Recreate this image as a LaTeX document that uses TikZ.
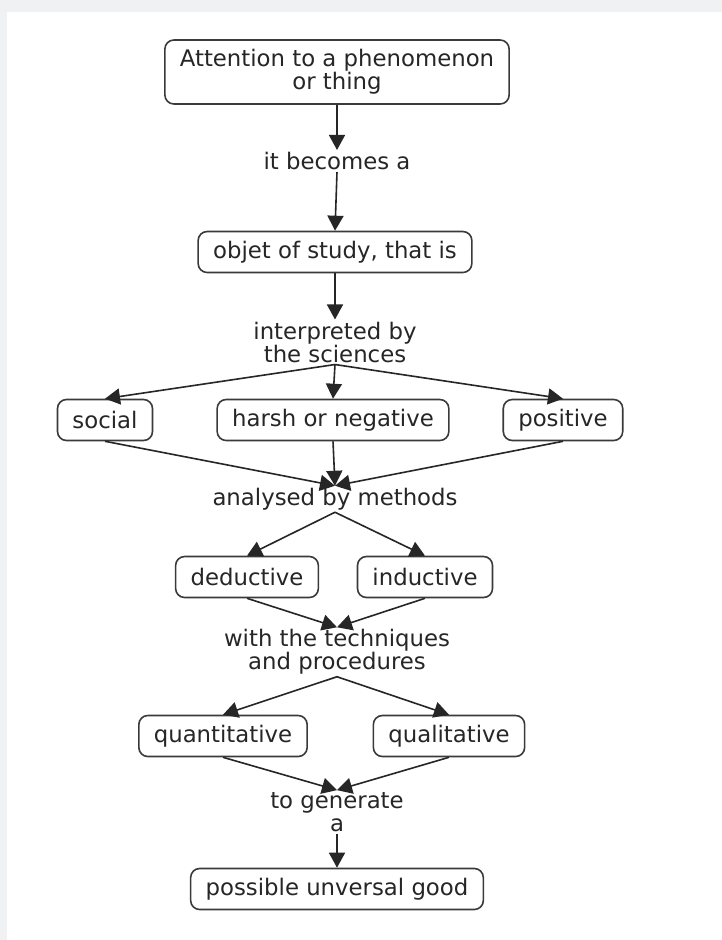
\documentclass[tikz,border=0pt]{standalone}
\usepackage{fontspec}
\setmainfont{DejaVu Sans}
\usepackage{xcolor}
\usetikzlibrary{shapes,arrows.meta,positioning}

\definecolor{bggray}{HTML}{F0F1F3}
\definecolor{boxgray}{HTML}{3A3A3A}
\definecolor{txtgray}{HTML}{262626}
\newcommand{\mapfont}{\fontsize{22.8}{23}\selectfont}

\begin{document}
\begin{tikzpicture}[x=1pt,y=-1pt,
    concept/.style={draw=boxgray, line width=1.6pt, rounded corners=9pt, fill=white,
        inner xsep=15pt, inner ysep=0pt, minimum height=41pt, align=center,
        font=\mapfont, text=txtgray},
    linkword/.style={inner sep=2pt, align=center, font=\mapfont, text=txtgray},
    link/.style={-{Triangle[width=16pt,length=15pt]}, line width=1.6pt, draw=black!85}]
        % Background
        \fill[bggray] (0,0) rectangle (722,940);
        \fill[white] (7,12) rectangle (722,940);
        \useasboundingbox (0,0) rectangle (722,940);
        % Concepts
        \node[concept, minimum height=64pt] (attention) at (337,72) {Attention to a phenomenon\\or thing};
        \node[concept] (object) at (335,252) {objet of study, that is};
        \node[concept] (social) at (105,420) {social};
        \node[concept] (harsh) at (333,420) {harsh or negative};
        \node[concept] (positive) at (563,420) {positive};
        \node[concept] (deductive) at (247,577) {deductive};
        \node[concept] (inductive) at (425,577) {inductive};
        \node[concept] (quanti) at (223,736) {quantitative};
        \node[concept] (quali) at (449,736) {qualitative};
        \node[concept] (good) at (337,889) {possible unversal good};
        % Linking words
        \node[linkword] (becomes) at (337,161) {it becomes a};
        \node[linkword] (interpreted) at (335,342) {interpreted by\\the sciences};
        \node[linkword] (analysed) at (335,499) {analysed by methods};
        \node[linkword] (techniques) at (337,652) {with the techniques\\and procedures};
        \node[linkword] (generate) at (337,812) {to generate\\a};
        % Links
        \draw[link] (attention.south) -- (becomes.north);
        \draw[link] (becomes.south) -- (object.north);
        \draw[link] (object.south) -- (interpreted.north);
        \foreach \c in {social,harsh,positive} {
            \draw[link] (interpreted.south) -- (\c.north);
            \draw[link] (\c.south) -- (analysed.north);
        }
        \foreach \c in {deductive,inductive} {
            \draw[link] (analysed.south) -- (\c.north);
            \draw[link] (\c.south) -- (techniques.north);
        }
        \foreach \c in {quanti,quali} {
            \draw[link] (techniques.south) -- (\c.north);
            \draw[link] (\c.south) -- (generate.north);
        }
        \draw[link] (generate.south) -- (good.north);
    \end{tikzpicture}
\end{document}
